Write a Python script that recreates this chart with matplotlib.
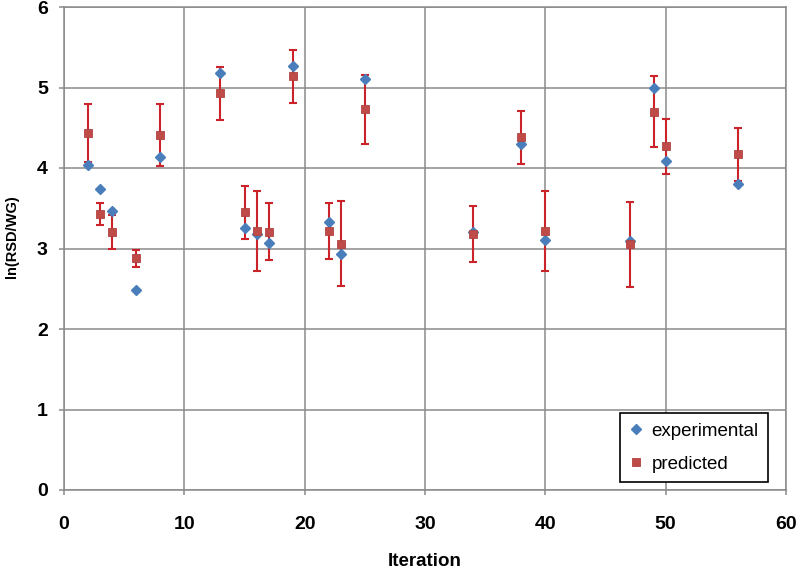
import matplotlib.pyplot as plt
from matplotlib.lines import Line2D

plt.rcParams['font.family'] = ['Liberation Sans', 'DejaVu Sans']

# values
iteration = [2, 3, 4, 6, 8, 13, 15, 16, 17, 19, 22, 23, 25, 34, 38, 40, 47, 49, 50, 56]
experimental = [4.04, 3.74, 3.46, 2.49, 4.14, 5.18, 3.26, 3.18, 3.07, 5.27,
                3.33, 2.93, 5.10, 3.21, 4.30, 3.11, 3.09, 5.00, 4.09, 3.80]
predicted = [4.43, 3.43, 3.20, 2.88, 4.41, 4.93, 3.45, 3.22, 3.21, 5.14,
             3.22, 3.06, 4.73, 3.18, 4.38, 3.22, 3.05, 4.70, 4.27, 4.17]
pred_err = [0.36, 0.14, 0.21, 0.105, 0.39, 0.33, 0.33, 0.50, 0.35, 0.33,
            0.35, 0.53, 0.43, 0.35, 0.33, 0.50, 0.53, 0.44, 0.34, 0.33]

x_ticks = [0, 10, 20, 30, 40, 50, 60]
y_ticks = [0, 1, 2, 3, 4, 5, 6]

blue = '#4a7ebb'
red = '#be4b48'
bar_red = '#cc2229'
grid_gray = '#8a8a8a'

fig = plt.figure(figsize=(7.99, 5.69), dpi=100)
ax = fig.add_axes([64 / 799, 1 - 490 / 569, 722 / 799, 483 / 569])

ax.errorbar(iteration, predicted, yerr=pred_err, fmt='none', ecolor=bar_red,
            elinewidth=1.5, capsize=2.8, capthick=1.5, zorder=3)
ax.plot(iteration, experimental, linestyle='none', marker='D', ms=5.4,
        color=blue, mec=blue, zorder=4)
ax.plot(iteration, predicted, linestyle='none', marker='s', ms=6.2,
        color=red, mec='#b04340', mew=0.6, zorder=5)

ax.set_xlim(0, 60)
ax.set_ylim(0, 6)
ax.set_xticks(x_ticks)
ax.set_yticks(y_ticks)
ax.grid(True, color=grid_gray, linewidth=1.1)
ax.set_axisbelow(True)
for s in ax.spines.values():
    s.set_color(grid_gray)
    s.set_linewidth(1.1)
ax.tick_params(axis='both', direction='out', length=3.6, width=1.1,
               color=grid_gray, labelsize=14)
ax.tick_params(axis='x', pad=15)
ax.tick_params(axis='y', pad=8)
for lab in ax.get_xticklabels() + ax.get_yticklabels():
    lab.set_fontweight('bold')

fig.text(425 / 799, 1 - 562 / 569, 'Iteration', ha='center', va='center',
         fontsize=13.5, fontweight='bold')
fig.text(12 / 799, 1 - 237 / 569, 'ln(RSD/WG)', ha='center', va='center',
         rotation=90, fontsize=10.5, fontweight='bold')

handles = [
    Line2D([], [], linestyle='none', marker='D', ms=5, color=blue),
    Line2D([], [], linestyle='none', marker='s', ms=5.6, color=red, mec='#b04340', mew=0.6),
]
leg = ax.legend(handles, ['experimental', 'predicted'], loc='lower right',
                bbox_to_anchor=(0.975, 0.016), fontsize=13.5, frameon=True,
                fancybox=False, edgecolor='black', framealpha=1,
                handlelength=0.8, handletextpad=0.4, labelspacing=0.85,
                borderpad=0.5, borderaxespad=0)
leg.get_frame().set_linewidth(1.2)

fig.savefig('out.png', dpi=100)
